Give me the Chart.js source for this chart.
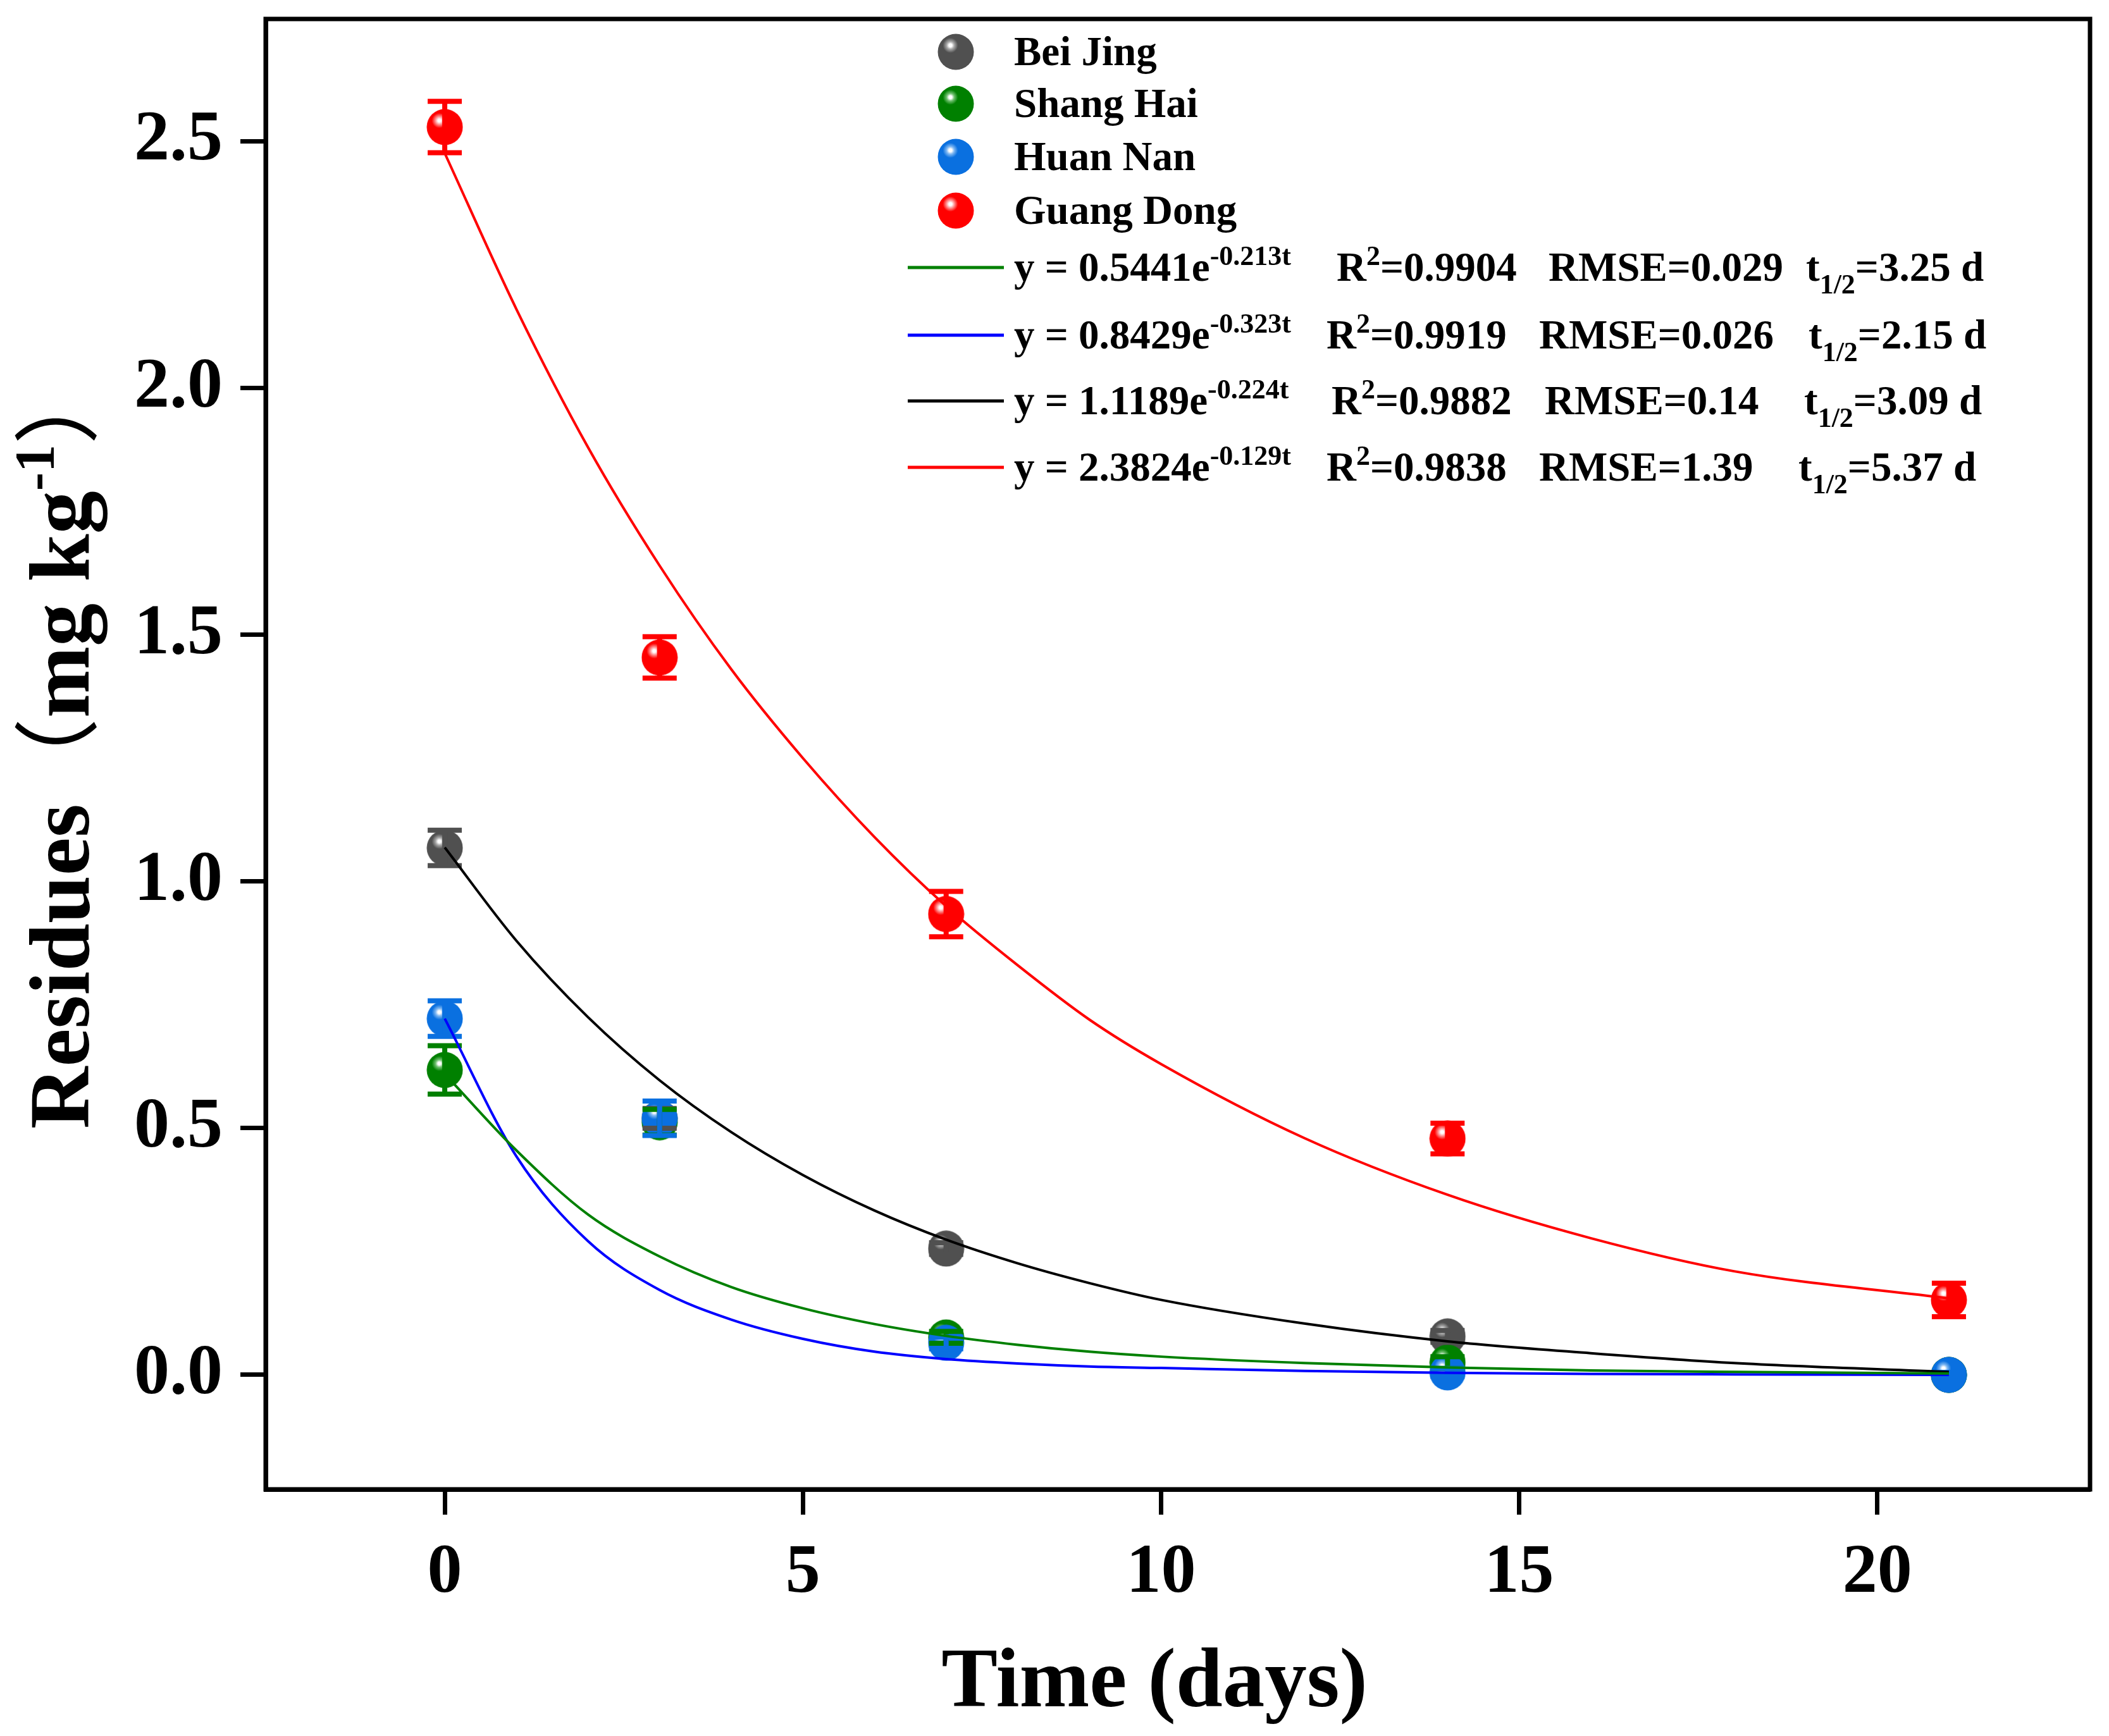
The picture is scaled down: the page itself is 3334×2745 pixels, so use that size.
<!DOCTYPE html>
<html>
<head>
<meta charset="utf-8">
<script src="https://cdn.jsdelivr.net/npm/chart.js@4.4.1/dist/chart.umd.min.js"></script>
<style>
  html, body { margin: 0; padding: 0; background: #fff; }
  canvas { display: block; }
</style>
</head>
<body>
<canvas id="chart" width="3334" height="2745" style="width:3334px;height:2745px"></canvas>
<script>
// sampling days and measured residues (mg/kg)
const days = [0, 3, 7, 14, 21];
const beiJing = [1.068, 0.52, 0.256, 0.078, 0.0];
const beiJingErr = [0.036, 0.02, 0.012, 0.012, 0.005];
const shangHai = [0.618, 0.512, 0.076, 0.025, 0.0];
const shangHaiErr = [0.049, 0.026, 0.012, 0.012, 0.005];
const huanNan = [0.722, 0.52, 0.065, 0.005, 0.0];
const huanNanErr = [0.036, 0.035, 0.012, 0.008, 0.005];
const guangDong = [2.529, 1.454, 0.934, 0.479, 0.152];
const guangDongErr = [0.052, 0.042, 0.046, 0.031, 0.034];

// fitted curves
const fitDays = [0, 1, 2, 3, 4, 5, 6, 7, 8, 9, 10, 12, 14, 16, 18, 21];
const fitBeiJing = [1.069, 0.88, 0.725, 0.597, 0.492, 0.405, 0.333, 0.274, 0.226, 0.186, 0.152, 0.104, 0.068, 0.044, 0.024, 0.006];
const fitShangHai = [0.61, 0.455, 0.325, 0.24, 0.178, 0.135, 0.103, 0.079, 0.061, 0.047, 0.037, 0.024, 0.015, 0.009, 0.006, 0.003];
const fitHuanNan = [0.722, 0.443, 0.271, 0.172, 0.112, 0.073, 0.047, 0.032, 0.023, 0.017, 0.014, 0.008, 0.004, 0.002, 0.001, 0.0];
const fitGuangDong = [2.476, 2.16, 1.88, 1.64, 1.43, 1.25, 1.09, 0.95, 0.83, 0.72, 0.63, 0.48, 0.365, 0.277, 0.21, 0.155];

const xTicks = [0, 5, 10, 15, 20];
const yTicks = [0, 0.5, 1.0, 1.5, 2.0, 2.5];

const siteNames = ['Bei Jing', 'Shang Hai', 'Huan Nan', 'Guang Dong'];
// legend rows for the fits (green, blue, black, red)
const eqBase = ['y = 0.5441e', 'y = 0.8429e', 'y = 1.1189e', 'y = 2.3824e'];
const eqExp = ['-0.213t', '-0.323t', '-0.224t', '-0.129t'];
const eqR2 = ['0.9904', '0.9919', '0.9882', '0.9838'];
const eqRmse = ['0.029', '0.026', '0.14', '1.39'];
const eqHalf = ['3.25', '2.15', '3.09', '5.37'];

const serif = "'Liberation Serif', 'Times New Roman', serif";
const cjk = "'Noto Sans CJK SC', 'Noto Sans CJK JP', sans-serif";

const colors = {
    bj: { base: '#505050', light: '#a8a8a8' },
    sh: { base: '#008000', light: '#70c070' },
    hn: { base: '#0a70e0', light: '#80b8f2' },
    gd: { base: '#ff0000', light: '#ff9a9a' }
};

function makeSphere(base, light) {
    const d = 58;
    const c = document.createElement('canvas');
    c.width = d; c.height = d;
    const g = c.getContext('2d');
    const r = d / 2 - 0.5;
    const hx = d / 2 - r * 0.3, hy = d / 2 - r * 0.36;
    const grad = g.createRadialGradient(hx, hy, 0, hx, hy, r * 1.4);
    grad.addColorStop(0, '#ffffff');
    grad.addColorStop(0.06, '#ffffff');
    grad.addColorStop(0.15, light);
    grad.addColorStop(0.3, base);
    grad.addColorStop(1, base);
    g.fillStyle = grad;
    g.beginPath();
    g.arc(d / 2, d / 2, r, 0, Math.PI * 2);
    g.fill();
    return c;
}

const spheres = {
    bj: makeSphere(colors.bj.base, colors.bj.light),
    sh: makeSphere(colors.sh.base, colors.sh.light),
    hn: makeSphere(colors.hn.base, colors.hn.light),
    gd: makeSphere(colors.gd.base, colors.gd.light)
};

const toXY = (xs, ys) => xs.map((x, i) => ({ x: x, y: ys[i] }));

const pointSet = (label, key, values, errs, order) => ({
    type: 'scatter',
    label: label,
    data: toXY(days, values),
    errors: errs,
    errColor: colors[key].base,
    pointStyle: spheres[key],
    pointRadius: 29,
    order: order
});

const lineSet = (label, values, color) => ({
    type: 'line',
    label: label,
    data: toXY(fitDays, values),
    borderColor: color,
    borderWidth: 4,
    pointRadius: 0,
    fill: false,
    cubicInterpolationMode: 'monotone',
    order: 0
});

// error bars go over all markers but under the fitted lines
function drawErrorBars(chart) {
    const ctx = chart.ctx;
    const xs = chart.scales.x, ys = chart.scales.y;
    const capHalf = 27;
    ctx.save();
    ctx.lineWidth = 8;
    chart.data.datasets.forEach(ds => {
        if (!ds.errors) return;
        ctx.strokeStyle = ds.errColor;
        ds.data.forEach((p, i) => {
            const px = xs.getPixelForValue(p.x);
            const yTop = ys.getPixelForValue(p.y + ds.errors[i]);
            const yBot = ys.getPixelForValue(p.y - ds.errors[i]);
            ctx.beginPath();
            ctx.moveTo(px, yTop); ctx.lineTo(px, yBot);
            ctx.moveTo(px - capHalf, yTop); ctx.lineTo(px + capHalf, yTop);
            ctx.moveTo(px - capHalf, yBot); ctx.lineTo(px + capHalf, yBot);
            ctx.stroke();
        });
    });
    ctx.restore();
}

const decorPlugin = {
    id: 'decor',
    beforeDraw(chart) { chart.$errDone = false; },
    beforeDatasetDraw(chart, args) {
        const ds = chart.data.datasets[args.index];
        if (ds.type === 'line' && !chart.$errDone) {
            drawErrorBars(chart);
            chart.$errDone = true;
        }
    },
    afterDraw(chart) {
        const ctx = chart.ctx;
        const a = chart.chartArea;
        ctx.save();

        // frame
        ctx.strokeStyle = '#000';
        ctx.lineWidth = 7;
        ctx.strokeRect(a.left, a.top, a.right - a.left, a.bottom - a.top);

        ctx.fillStyle = '#000';
        ctx.textBaseline = 'alphabetic';
        ctx.textAlign = 'left';

        // x title
        ctx.font = 'bold 133px ' + serif;
        const xt = 'Time (days)';
        ctx.fillText(xt, 1825 - ctx.measureText(xt).width / 2, 2698);

        // y title, rotated
        const parts = [
            { t: 'Residues', f: 'bold 136px ' + serif, dy: 0 },
            { t: '\uFF08', f: '400 136px ' + cjk, dy: 0 },
            { t: 'mg kg', f: 'bold 136px ' + serif, dy: 0 },
            { t: '-1', f: 'bold 88px ' + serif, dy: -56 },
            { t: '\uFF09', f: '400 136px ' + cjk, dy: 0 }
        ];
        let total = 0;
        parts.forEach(p => { ctx.font = p.f; p.w = ctx.measureText(p.t).width; total += p.w; });
        ctx.translate(140, 1176 + total / 2);
        ctx.rotate(-Math.PI / 2);
        let px = 0;
        parts.forEach(p => { ctx.font = p.f; ctx.fillText(p.t, px, p.dy); px += p.w; });
        ctx.setTransform(1, 0, 0, 1, 0, 0);

        // legend: sites
        const keys = ['bj', 'sh', 'hn', 'gd'];
        const rowY = [82, 164, 248, 333];
        ctx.font = 'bold 65px ' + serif;
        keys.forEach((k, i) => {
            const s = spheres[k];
            ctx.drawImage(s, 1511 - s.width / 2, rowY[i] - s.height / 2);
            ctx.fillText(siteNames[i], 1603, rowY[i] + 21);
        });

        // legend: fitted curves
        const lineColors = ['#008000', '#0000ff', '#000000', '#ff0000'];
        const lineY = [423, 530, 634, 739];
        const rX = [2113, 2097, 2105, 2097];
        const rmseX = [2448, 2433, 2442, 2433];
        const tX = [2855, 2859, 2852, 2843];
        const big = 'bold 65px ' + serif, small = 'bold 44px ' + serif;
        lineY.forEach((y, i) => {
            ctx.strokeStyle = lineColors[i];
            ctx.lineWidth = 5;
            ctx.beginPath(); ctx.moveTo(1435, y); ctx.lineTo(1587, y); ctx.stroke();
            const base = y + 21;
            ctx.font = big;
            ctx.fillText(eqBase[i], 1603, base);
            const ex = 1603 + ctx.measureText(eqBase[i]).width;
            ctx.font = small;
            ctx.fillText(eqExp[i], ex, base - 25);

            ctx.font = big;
            ctx.fillText('R', rX[i], base);
            let x2 = rX[i] + ctx.measureText('R').width;
            ctx.font = small;
            ctx.fillText('2', x2, base - 25);
            x2 += ctx.measureText('2').width;
            ctx.font = big;
            ctx.fillText('=' + eqR2[i], x2, base);

            ctx.fillText('RMSE=' + eqRmse[i], rmseX[i], base);

            ctx.fillText('t', tX[i], base);
            let x3 = tX[i] + ctx.measureText('t').width;
            ctx.font = small;
            ctx.fillText('1/2', x3, base + 20);
            x3 += ctx.measureText('1/2').width;
            ctx.font = big;
            ctx.fillText('=' + eqHalf[i] + ' d', x3, base);
        });
        ctx.restore();
    }
};

const axisCommon = {
    type: 'linear',
    grid: { drawOnChartArea: false, drawTicks: true, tickLength: 40, tickWidth: 7, color: '#000' },
    border: { display: true, width: 7, color: '#000' }
};

new Chart(document.getElementById('chart'), {
    type: 'scatter',
    data: {
        datasets: [
            lineSet('Shang Hai fit', fitShangHai, '#008000'),
            lineSet('Huan Nan fit', fitHuanNan, '#0000ff'),
            lineSet('Bei Jing fit', fitBeiJing, '#000000'),
            lineSet('Guang Dong fit', fitGuangDong, '#ff0000'),
            pointSet('Bei Jing', 'bj', beiJing, beiJingErr, 4),
            pointSet('Shang Hai', 'sh', shangHai, shangHaiErr, 3),
            pointSet('Huan Nan', 'hn', huanNan, huanNanErr, 2),
            pointSet('Guang Dong', 'gd', guangDong, guangDongErr, 1)
        ]
    },
    options: {
        responsive: false,
        animation: false,
        devicePixelRatio: 1,
        layout: { padding: { top: 28, right: 23, left: 0, bottom: 0 } },
        plugins: {
            legend: { display: false },
            tooltip: { enabled: false }
        },
        scales: {
            x: {
                ...axisCommon,
                min: -2.5,
                max: 22.97,
                afterBuildTicks: s => { s.ticks = xTicks.map(v => ({ value: v })); },
                afterFit: s => { s.height = 390; s.paddingLeft = 0; s.paddingRight = 0; },
                ticks: {
                    color: '#000',
                    padding: 28,
                    font: { family: serif, weight: 'bold', size: 110 },
                    callback: v => String(v)
                }
            },
            y: {
                ...axisCommon,
                min: -0.232,
                max: 2.748,
                afterBuildTicks: s => { s.ticks = yTicks.map(v => ({ value: v })); },
                afterFit: s => { s.width = 420; s.paddingTop = 0; s.paddingBottom = 0; },
                ticks: {
                    color: '#000',
                    padding: 28,
                    font: { family: serif, weight: 'bold', size: 112 },
                    callback: v => v.toFixed(1)
                }
            }
        }
    },
    plugins: [decorPlugin]
});
</script>
</body>
</html>
